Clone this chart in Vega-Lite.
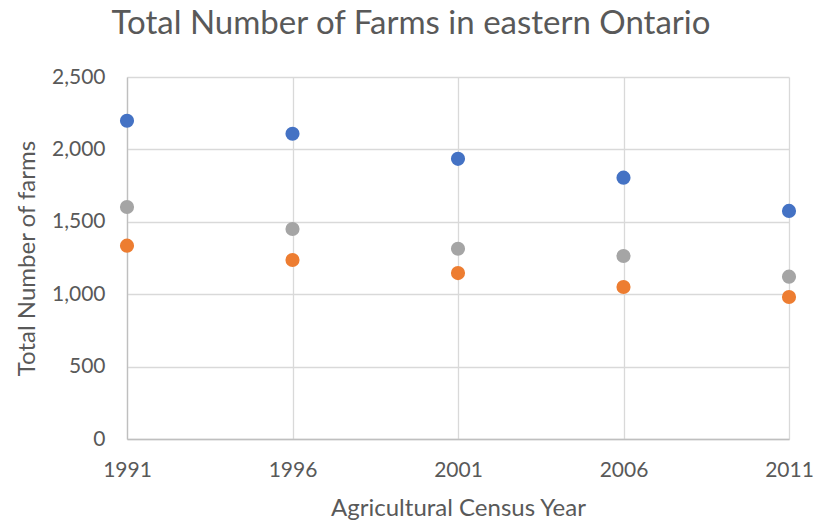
{
  "$schema": "https://vega.github.io/schema/vega-lite/v6.json",
  "autosize": "none",
  "width": 662,
  "height": 362,
  "padding": {"left": 127, "top": 77, "right": 38, "bottom": 88},
  "background": "white",
  "title": {
    "text": "Total Number of Farms in eastern Ontario",
    "font": "Lato",
    "fontSize": 33,
    "fontWeight": "normal",
    "color": "#595959",
    "anchor": "middle",
    "dx": -47,
    "offset": 25
  },
  "data": {
    "values": [
      {"year": 1991, "series": "A", "farms": 2198},
      {"year": 1996, "series": "A", "farms": 2108},
      {"year": 2001, "series": "A", "farms": 1935},
      {"year": 2006, "series": "A", "farms": 1805},
      {"year": 2011, "series": "A", "farms": 1575},
      {"year": 1991, "series": "B", "farms": 1335},
      {"year": 1996, "series": "B", "farms": 1236},
      {"year": 2001, "series": "B", "farms": 1146},
      {"year": 2006, "series": "B", "farms": 1050},
      {"year": 2011, "series": "B", "farms": 981},
      {"year": 1991, "series": "C", "farms": 1602},
      {"year": 1996, "series": "C", "farms": 1450},
      {"year": 2001, "series": "C", "farms": 1314},
      {"year": 2006, "series": "C", "farms": 1264},
      {"year": 2011, "series": "C", "farms": 1121}
    ]
  },
  "mark": {"type": "circle", "size": 200, "opacity": 1},
  "encoding": {
    "x": {
      "field": "year",
      "type": "quantitative",
      "scale": {"domain": [1991, 2011], "nice": false, "zero": false},
      "axis": {
        "values": [1991, 1996, 2001, 2006, 2011],
        "format": "d",
        "labelFlush": false,
        "title": "Agricultural Census Year",
        "grid": true,
        "gridColor": "#d9d9d9",
        "gridWidth": 1.3,
        "domainColor": "#bfbfbf",
        "domainWidth": 1.3,
        "ticks": false,
        "labelPadding": 20,
        "labelFont": "Lato",
        "labelFontSize": 21,
        "labelColor": "#595959",
        "titleFont": "Lato",
        "titleFontSize": 24,
        "titleFontWeight": "normal",
        "titleColor": "#595959",
        "titlePadding": 16
      }
    },
    "y": {
      "field": "farms",
      "type": "quantitative",
      "scale": {"domain": [0, 2500], "nice": false},
      "axis": {
        "values": [0, 500, 1000, 1500, 2000, 2500],
        "format": ",d",
        "labelFlush": false,
        "title": "Total Number of farms",
        "grid": true,
        "gridColor": "#d9d9d9",
        "gridWidth": 1.3,
        "domainColor": "#bfbfbf",
        "domainWidth": 1.3,
        "ticks": false,
        "labelPadding": 22,
        "labelFont": "Lato",
        "labelFontSize": 21,
        "labelColor": "#595959",
        "titleFont": "Lato",
        "titleFontSize": 24,
        "titleFontWeight": "normal",
        "titleColor": "#595959",
        "titlePadding": 12
      }
    },
    "color": {
      "field": "series",
      "type": "nominal",
      "scale": {"domain": ["A", "B", "C"], "range": ["#4472C4", "#ED7D31", "#A5A5A5"]},
      "legend": null
    }
  },
  "config": {"view": {"stroke": null}}
}
